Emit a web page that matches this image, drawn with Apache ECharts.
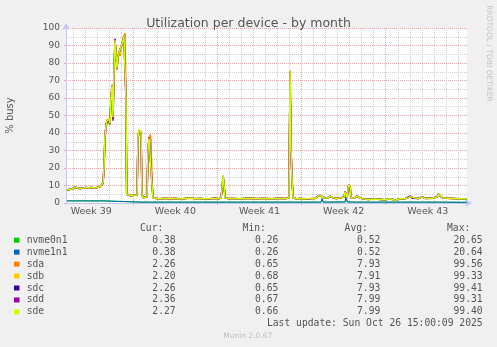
<!DOCTYPE html>
<html><head><meta charset="utf-8">
<script src="https://cdn.jsdelivr.net/npm/echarts@6/dist/echarts.min.js"></script>
<style>html,body{margin:0;padding:0;background:#f0f0f0}#c{width:497px;height:347px}</style>
</head><body><div id="c"></div><script>
// ---- data ----
const TITLE = 'Utilization per device - by month';
const Y_NAME = '% busy';
const X_MIN = 1.40, X_MAX = 34.76; // days since Mon Sep 22 2025 00:00
const WEEK_STARTS = [7, 14, 21, 28];
const WEEK_MIDS = [3.5, 10.5, 17.5, 24.5, 31.5];
const WEEK_LABELS = ['Week 39', 'Week 40', 'Week 41', 'Week 42', 'Week 43'];
const DAYS = [2,3,4,5,6,8,9,10,11,12,13,15,16,17,18,19,20,22,23,24,25,26,27,29,30,31,32,33,34];

const NAMES = ['nvme0n1','nvme1n1','sda','sdb','sdc','sdd','sde'];
const CUR = [0.38,0.38,2.26,2.20,2.26,2.36,2.27];
const MIN = [0.26,0.26,0.65,0.68,0.65,0.67,0.66];
const AVG = [0.52,0.52,7.93,7.91,7.93,7.99,7.99];
const MAX = [20.65,20.64,99.56,99.33,99.41,99.31,99.40];
const LAST_UPDATE = 'Last update: Sun Oct 26 15:00:09 2025';
const FOOTER = 'Munin 2.0.67';
const SIDE = 'RRDTOOL / TOBI OETIKER';

const NT = [1.48,2.56,3.48,4.48,4.56,4.64,7.72,7.81,7.89,14.38,14.47,14.55,22.62,22.70,22.79,24.62,24.70,24.79,25.54,25.62,25.70,32.28,32.37,32.45,34.75];
const nvme0n1 = [1.2,1.2,1.2,1.2,0.8,0.5,0.5,1.4,0.5,0.5,1.1,0.5,0.5,2.4,0.5,0.6,3.7,0.6,0.5,1.4,0.5,0.5,1.1,0.5,0.38];
const nvme1n1 = [1.2,1.2,1.2,1.2,0.8,0.5,0.5,1.5,0.5,0.5,1.2,0.5,0.5,2.5,0.5,0.6,3.8,0.6,0.5,1.5,0.5,0.5,1.2,0.5,0.38];

const T = [1.48,1.73,1.98,2.15,2.31,2.56,2.81,3.06,3.23,3.48,3.64,3.89,4.06,4.23,4.39,4.48,4.56,4.64,4.73,4.81,
4.89,4.98,5.06,5.14,5.23,5.31,5.39,5.48,5.56,5.64,5.73,5.81,5.89,5.97,6.06,6.14,6.22,6.31,6.39,6.45,
6.56,6.81,7.06,7.22,7.31,7.39,7.47,7.56,7.64,7.72,7.81,7.97,8.14,8.22,8.31,8.39,8.47,8.56,8.64,8.89,
9.22,9.64,10.05,10.47,10.89,11.30,11.72,12.13,12.55,12.96,13.38,13.80,14.13,14.30,14.38,14.47,14.55,14.63,14.88,15.22,
15.88,16.55,17.22,17.87,18.54,19.20,19.70,19.95,20.04,20.12,20.20,20.29,20.54,20.87,21.29,21.70,22.12,22.37,22.54,22.70,
22.87,23.12,23.37,23.54,23.87,24.20,24.54,24.62,24.70,24.79,24.87,24.95,25.04,25.12,25.37,25.62,25.79,26.04,26.54,27.12,
27.54,27.95,28.37,28.79,29.20,29.62,30.04,30.20,30.70,31.04,31.29,31.87,32.28,32.37,32.53,32.70,33.20,33.78,34.20,34.75];

const sda = [7.3,7.9,8.0,8.8,8.4,8.1,8.4,8.7,8.7,8.6,8.5,8.5,8.9,9.4,10.0,11.0,18,36,45,46,
47,47,46,58,66,50,72,92,86,76,83,87,84,88,90,94,94,97,58,5.2,
4.4,4.0,4.5,4.8,4.6,36,40,41,40,6,3.1,2.7,3.4,28,36,39,36,12,3.1,2.5,
2.5,2.6,2.4,2.7,2.4,2.5,2.7,2.6,2.5,2.5,2.4,2.7,2.5,3.1,7,15,11,3.1,2.4,2.5,
2.5,2.6,2.4,2.7,2.5,2.6,2.4,3.1,74,32,13,3.1,2.5,2.5,2.5,2.4,2.5,3.8,4.2,3.9,
3.1,2.7,3.7,3.3,2.6,2.7,3.4,6.2,7.2,3.1,8.5,10.2,9.3,3.1,2.7,3.9,3.1,2.4,2.1,2.2,
2.1,1.9,2.3,1.7,2.3,2.4,3.4,2.7,2.4,3.4,2.7,2.6,3.4,4.8,4.6,3.1,2.6,2.4,2.5,2.26];
const sdb = [7.6,7.7,8.1,8.9,8.2,8.3,8.5,8.6,8.5,8.7,8.3,8.7,9.1,9.2,10.1,12,22,39,43,48,
45,48,45,61,68,48,76,93,84,78,85,85,86,86,92,92,96,95,62,4.8,
4.6,4.3,4.3,5.1,4.4,39,42,39,41,4.5,2.9,2.9,3.6,31,38,37,38,9,2.9,2.7,
2.3,2.8,2.5,2.5,2.2,2.7,2.9,2.4,2.7,2.3,2.6,2.5,2.3,2.9,9,16,9,2.9,2.6,2.7,
2.3,2.8,2.6,2.5,2.3,2.8,2.6,2.9,76,28,15,2.9,2.3,2.7,2.3,2.6,2.7,4.1,4.4,3.7,
2.9,2.9,3.9,3.1,2.4,2.9,3.6,6.8,6.8,2.9,9.2,10.8,8.8,2.9,2.9,4.1,2.9,2.6,1.9,2.4,
1.9,1.7,2.5,1.5,2.5,2.6,3.6,2.5,2.6,3.6,2.5,2.8,3.6,5.2,4.4,2.9,2.8,2.6,2.3,2.20];
const sdc = [7.4,7.8,8.3,9.1,8.3,8.2,8.6,8.8,8.6,8.8,8.5,8.6,9.0,9.3,10.3,11.2,19,37,44,46,
46,47,45,59,67,48,74,92,85,77,84,86,85,87,91,93,95,96,59,4.9,
4.5,4.1,4.4,4.9,4.5,37,41,40,40,5.5,3,2.8,3.5,29,37,38,37,11,3,2.6,
2.4,2.6,2.5,2.6,2.3,2.6,2.8,2.5,2.6,2.4,2.5,2.6,2.4,3,8,15.2,10,3,2.5,2.6,
2.4,2.7,2.5,2.6,2.4,2.7,2.5,3,74.5,31,14,3,2.4,2.6,2.4,2.5,2.6,3.9,4.3,3.8,
3,2.8,3.8,3.2,2.5,2.8,3.5,6.4,7,3,8.8,10.4,9,3,2.8,4,3,2.5,2.0,2.3,
2.0,1.8,2.4,1.6,2.4,2.5,3.5,2.6,2.5,3.5,2.6,2.7,3.5,5,4.5,3,2.7,2.5,2.4,2.26];
const sdd = [7.5,7.9,8.2,8.9,8.4,8.3,8.5,8.8,8.7,8.8,8.4,8.6,9.0,9.4,10.2,11.6,21,38,45,47,
46,48,45.5,60,66,47,75,94,85,77,84,86,85,87,91,93,95,96,61,5.1,
4.6,4.2,4.5,5,4.6,38,40.5,40,41,5,3.1,2.8,3.6,30,37.5,38.5,37,10,3.1,2.7,
2.5,2.7,2.6,2.6,2.4,2.6,2.9,2.5,2.6,2.5,2.5,2.7,2.4,3.1,8,15.4,10,3.1,2.6,2.6,
2.5,2.7,2.6,2.6,2.5,2.7,2.6,3.1,75,30,14,3.1,2.5,2.6,2.5,2.5,2.7,4.1,4.3,3.9,
3.1,2.8,3.9,3.2,2.6,2.8,3.6,6.6,7,3.1,9,10.5,9,3.1,2.8,4.1,3.1,2.6,2.1,2.3,
2.1,1.8,2.5,1.7,2.5,2.6,4.0,2.7,2.6,3.6,2.7,2.7,3.6,5.1,4.6,3.1,2.7,2.6,2.5,2.36];
const sde = [7.5,7.8,8.2,9.0,8.3,8.2,8.5,8.8,8.6,8.8,8.4,8.6,9.0,9.3,10.2,11.5,20,38,44,47,
46,48,45.5,60,67,49,75,93,85,77,84,86,85,87,91,93,95,96,60,5,
4.5,4.2,4.4,5,4.5,38,41,40,41,5,3,2.8,3.5,30,37,38,37,10,3,2.6,
2.4,2.7,2.5,2.6,2.3,2.6,2.8,2.5,2.6,2.4,2.5,2.6,2.4,3,8,15.5,10,3,2.5,2.6,
2.4,2.7,2.5,2.6,2.4,2.7,2.5,3,75,30,14,3,2.4,2.6,2.4,2.5,2.6,4,4.3,3.8,
3,2.8,3.8,3.2,2.5,2.8,3.5,6.5,7,3,9,10.5,9,3,2.8,4,3,2.5,2.0,2.3,
2.0,1.8,2.4,1.6,2.4,2.5,3.5,2.6,2.5,3.5,2.6,2.7,3.5,5,4.5,3,2.7,2.5,2.4,2.27];

// ---- styling ----
const COLORS = ['#00cc00','#0066b3','#ff8000','#ffcc00','#330099','#990099','#ccff00'];
const WIDTHS = [1, 1, 1.5, 1.5, 1.5, 1.5, 1.5];
const SANS = '"DejaVu Sans", sans-serif';
const MONO = '"DejaVu Sans Mono", monospace';
const TXT = '#555555';
const RED_GRID = '#e6a9a9';
const GREY_GRID = '#d2d2d2';
const AXIS_C = '#c6c6f2';

const pairs = (xs, ys) => xs.map((x, i) => [x, ys[i]]);
const SERIES_DATA = [pairs(NT, nvme0n1), pairs(NT, nvme1n1), pairs(T, sda), pairs(T, sdb), pairs(T, sdc), pairs(T, sdd), pairs(T, sde)];

const graphics = [];
const ROW0 = 240.2, ROWH = 11.95;
const COLS = [[CUR, 'Cur:', 175.7], [MIN, 'Min:', 278.3], [AVG, 'Avg:', 380.3], [MAX, 'Max:', 482.7]];
function txt(x, y, s, font, fill, align) {
  return {type: 'text', x: x, y: y, silent: true,
    style: {text: s, font: font, fill: fill, align: align, verticalAlign: 'middle', textAlign: align, textVerticalAlign: 'middle'}};
}
COLS.forEach(c => graphics.push(txt(c[2] - 12.4, ROW0 - ROWH, c[1], '9.7px ' + MONO, TXT, 'right')));
NAMES.forEach((n, i) => {
  const y = ROW0 + i * ROWH;
  graphics.push({type: 'rect', silent: true, shape: {x: 14, y: y - 2.5, width: 5.5, height: 5}, style: {fill: COLORS[i]}});
  graphics.push(txt(26.7, y, n, '9.7px ' + MONO, TXT, 'left'));
  COLS.forEach(c => graphics.push(txt(c[2], y, c[0][i].toFixed(2), '9.7px ' + MONO, TXT, 'right')));
});
graphics.push(txt(482.7, ROW0 + 7 * ROWH, LAST_UPDATE, '9.7px ' + MONO, TXT, 'right'));
graphics.push(txt(247.7, 336, FOOTER, '7.5px ' + SANS, '#bdbdbd', 'center'));
graphics.push(Object.assign(txt(0, 0, SIDE, '7.5px ' + SANS, '#c4c4c4', 'center'), {x: 489, y: 53.5, rotation: -Math.PI / 2}));

const chart = echarts.init(document.getElementById('c'), null, {renderer: 'canvas'});
chart.setOption({
  backgroundColor: '#f0f0f0',
  animation: false,
  title: {text: TITLE, left: 'center', top: 12, textStyle: {fontFamily: SANS, fontSize: 12.5, fontWeight: 'normal', color: TXT}},
  grid: {left: 66, right: 30, top: 28, bottom: 144, show: true, backgroundColor: '#ffffff', borderWidth: 0, containLabel: false, outerBoundsMode: 'none'},
  xAxis: [
    {type: 'value', min: X_MIN, max: X_MAX, position: 'bottom',
     axisLine: {show: true, onZero: false, lineStyle: {color: AXIS_C, width: 1}, symbol: ['none', 'arrow'], symbolSize: [6, 7], symbolOffset: [0, 5]},
     axisTick: {show: true, customValues: WEEK_STARTS, length: 2, lineStyle: {color: RED_GRID}},
     axisLabel: {customValues: WEEK_MIDS, margin: 4, fontFamily: SANS, fontSize: 9.5, color: TXT,
       formatter: v => { let k = 0; WEEK_MIDS.forEach((m, i) => { if (Math.abs(m - v) < Math.abs(WEEK_MIDS[k] - v)) k = i; }); return WEEK_LABELS[k]; }},
     splitLine: {show: true, lineStyle: {color: RED_GRID, type: [1, 1], width: 1}}},
    {type: 'value', min: X_MIN, max: X_MAX, position: 'bottom',
     axisLine: {show: false}, axisTick: {show: false, customValues: DAYS}, axisLabel: {show: false},
     splitLine: {show: true, lineStyle: {color: GREY_GRID, type: [1, 1], width: 1}}}
  ],
  yAxis: {type: 'value', min: 0, max: 100, interval: 10,
    name: Y_NAME, nameLocation: 'middle', nameGap: 51, nameTextStyle: {fontFamily: SANS, fontSize: 10, color: TXT},
    axisLine: {show: true, lineStyle: {color: AXIS_C, width: 1}, symbol: ['none', 'arrow'], symbolSize: [6, 7], symbolOffset: [0, 5]},
    axisTick: {show: true, length: 2, lineStyle: {color: RED_GRID}},
    axisLabel: {margin: 6, fontFamily: SANS, fontSize: 9, color: TXT},
    splitLine: {show: true, lineStyle: {color: RED_GRID, type: [1, 1], width: 1}},
    minorTick: {show: false, splitNumber: 2},
    minorSplitLine: {show: true, lineStyle: {color: GREY_GRID, type: [1, 1], width: 1}}},
  series: NAMES.map((n, i) => ({
    name: n, type: 'line', xAxisIndex: 0, data: SERIES_DATA[i], showSymbol: false, symbol: 'none',
    lineStyle: {color: COLORS[i], width: WIDTHS[i]}, itemStyle: {color: COLORS[i]}, z: 5 + i, silent: true
  })),
  graphic: graphics
});
</script></body></html>
